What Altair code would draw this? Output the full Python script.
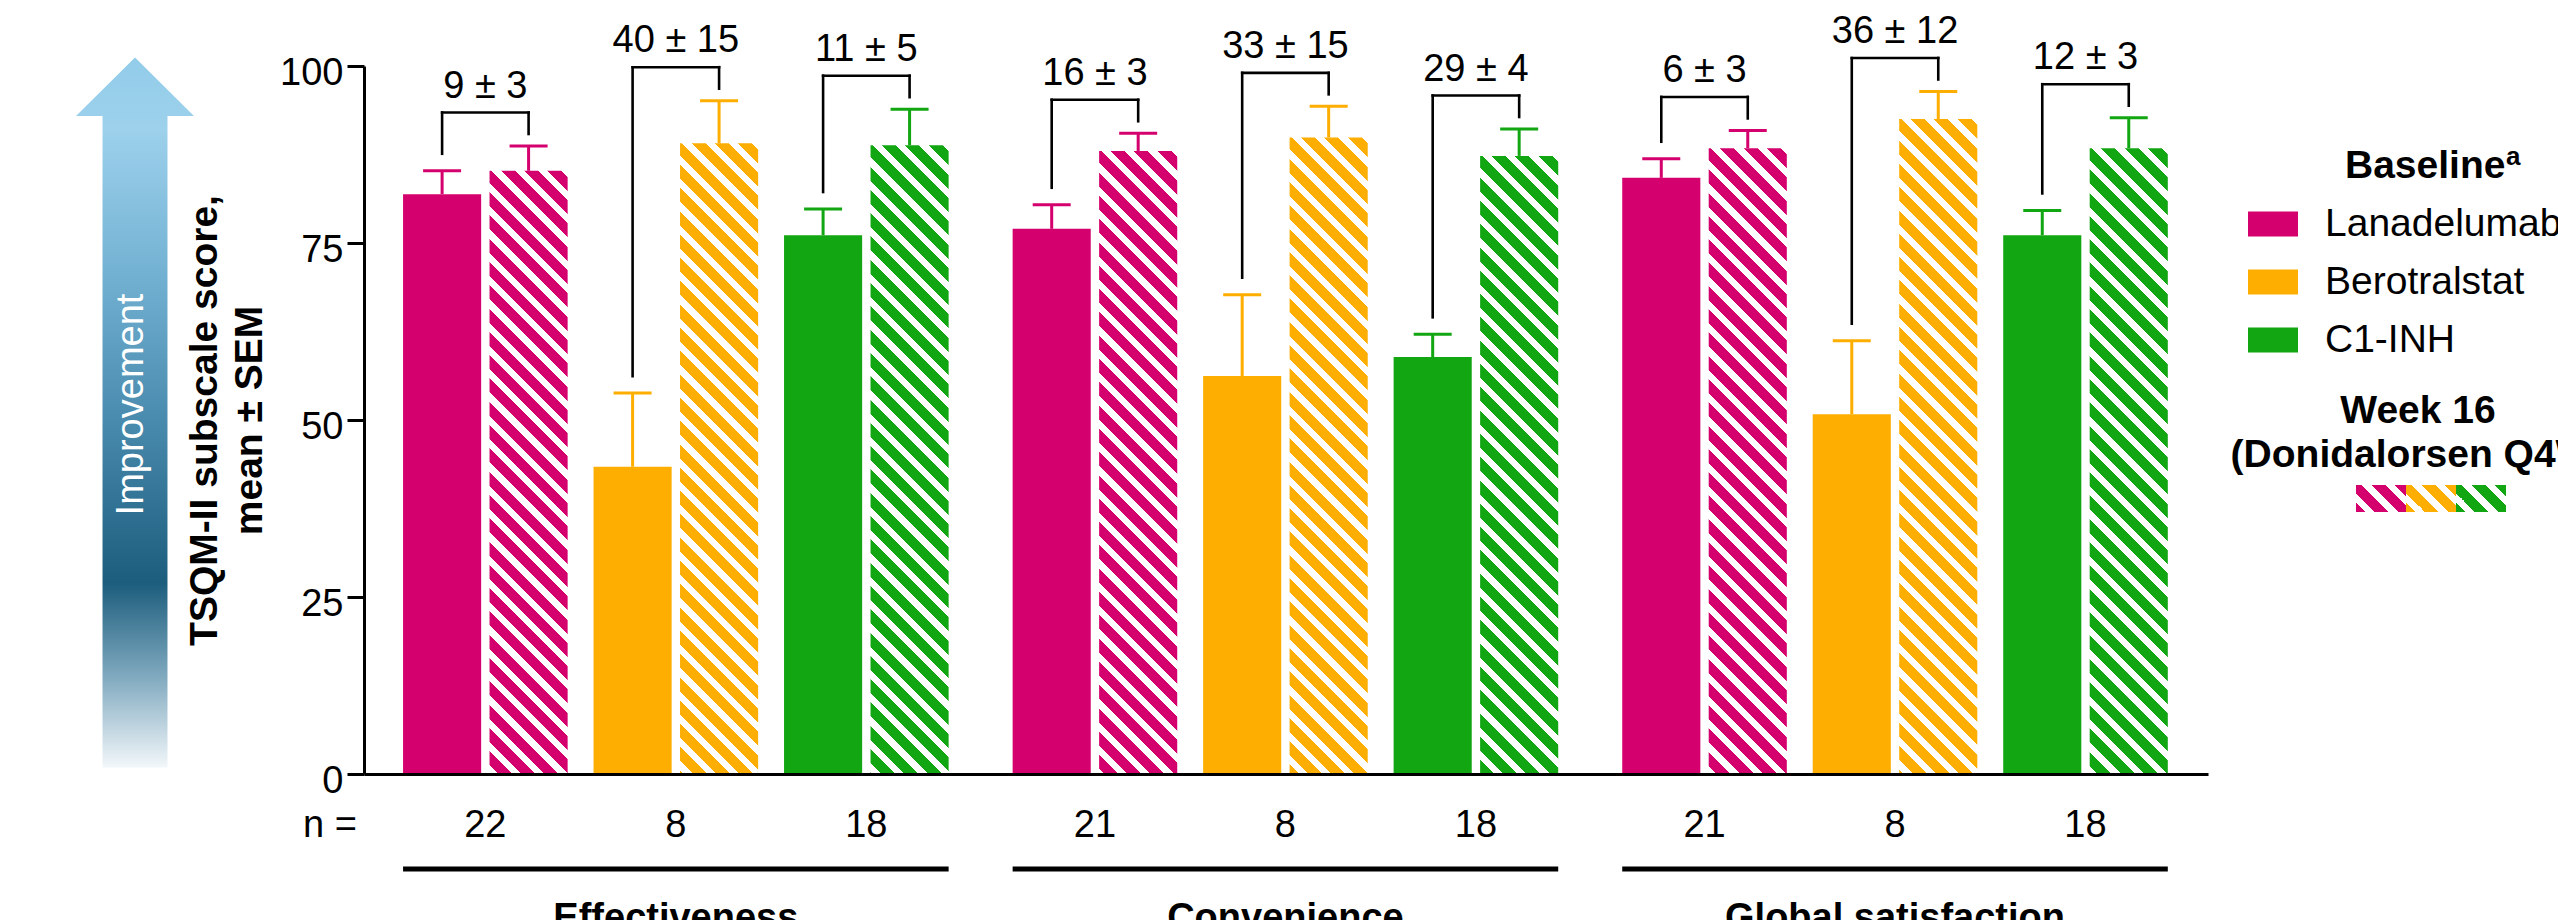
import math

import altair as alt
import pandas as pd

# ---------------------------------------------------------------- data
CATEGORIES = ["Effectiveness", "Convenience", "Global satisfaction"]
DRUGS = ["Lanadelumab", "Berotralstat", "C1-INH"]
DRUG_COLORS = ["#D4006E", "#FDAE00", "#12A612"]
N_PATIENTS = [[22, 8, 18], [21, 8, 18], [21, 8, 18]]
BASELINE_MEAN = [[81.9, 43.4, 76.1], [77.0, 56.2, 58.9], [84.2, 50.8, 76.1]]
BASELINE_SEM = [[3.3, 10.4, 3.7], [3.4, 11.5, 3.2], [2.7, 10.4, 3.5]]
WEEK16_MEAN = [[85.2, 89.1, 88.8], [88.0, 89.9, 87.3], [88.4, 92.5, 88.4]]
WEEK16_SEM = [[3.5, 6.0, 5.1], [2.5, 4.4, 3.8], [2.5, 3.9, 4.3]]
CHANGE_LABELS = [["9 ± 3", "40 ± 15", "11 ± 5"],
                 ["16 ± 3", "33 ± 15", "29 ± 4"],
                 ["6 ± 3", "36 ± 12", "12 ± 3"]]
Y_TICKS = [0, 25, 50, 75, 100]
TIMEPOINTS = ["Baseline", "Week 16"]

# ---------------------------------------------------------------- layout
FONT = "Liberation Sans, Arial, sans-serif"
FS = 38
PLOT_W, PLOT_H = 1844, 708
PADDING = {"left": 364, "top": 66, "right": 350, "bottom": 146}
X_DOMAIN = [-0.637, 9.043]          # one unit = distance between drug pairs
GROUP_STEP = 3.2                     # three pairs plus a wider gap per category
BAR_OFFSET = 0.227                   # bar centre distance from pair centre
BAR_HALF = 0.205                     # half bar width
PX_PER_X = PLOT_W / (X_DOMAIN[1] - X_DOMAIN[0])
PX_PER_Y = PLOT_H / 100.0
BAR_W_PX = 2 * BAR_HALF * PX_PER_X

# ---------------------------------------------------------------- tables
bar_rows, pair_rows, group_rows = [], [], []
for c, cat in enumerate(CATEGORIES):
    for d, drug in enumerate(DRUGS):
        centre = c * GROUP_STEP + d
        stats = [(BASELINE_MEAN[c][d], BASELINE_SEM[c][d]),
                 (WEEK16_MEAN[c][d], WEEK16_SEM[c][d])]
        xcs = []
        for t, tp in enumerate(TIMEPOINTS):
            xc = centre + (2 * t - 1) * BAR_OFFSET
            xcs.append(xc)
            mean, sem = stats[t]
            bar_rows.append(dict(key=f"{c}-{d}-{t}", category=cat, drug=drug,
                                 time=tp, mean=mean, sem=sem, top=mean + sem,
                                 xc=xc, x_lo=xc - BAR_HALF, x_hi=xc + BAR_HALF))
        left_bottom = stats[0][0] + stats[0][1] + 17 / PX_PER_Y
        right_bottom = stats[1][0] + stats[1][1] + 12 / PX_PER_Y
        pair_rows.append(dict(category=cat, drug=drug, n=str(N_PATIENTS[c][d]),
                              change=CHANGE_LABELS[c][d], centre=centre,
                              x_left=xcs[0], x_right=xcs[1],
                              left_bottom=left_bottom, right_bottom=right_bottom,
                              bracket_top=max(left_bottom, right_bottom) + 21.5 / PX_PER_Y))
    group_rows.append(dict(category=cat, centre=c * GROUP_STEP + 1,
                           x_start=c * GROUP_STEP - BAR_OFFSET - BAR_HALF,
                           x_end=c * GROUP_STEP + 2 + BAR_OFFSET + BAR_HALF))

bars = pd.DataFrame(bar_rows)
pairs = pd.DataFrame(pair_rows)
groups = pd.DataFrame(group_rows)


def hatch(color, w, h, period=23.3, white=9.3, phase=2.0):
    """Diagonal white stripes (top-left to bottom-right) as a linear gradient.

    The gradient runs in bounding-box units, so its vector is chosen so that
    the colour bands stay at 45 degrees on screen for a w x h pixel box."""
    k = (w + h) / (w * w + h * h)
    span = w + h

    def colour_at(dd):
        return "#FFFFFF" if ((dd - phase) % period) < white else color

    cuts = []
    m = math.floor((-h - phase) / period) - 1
    while True:
        s = phase + m * period
        for b in (s, s + white):
            if -h < b < w:
                cuts.append(b)
        if s > w:
            break
        m += 1
    cuts.sort()
    stops = [{"offset": 0, "color": colour_at(-h + 1e-6)}]
    for b in cuts:
        off = round((b + h) / span, 6)
        stops.append({"offset": off, "color": colour_at(b - 1e-6)})
        stops.append({"offset": off, "color": colour_at(b + 1e-6)})
    stops.append({"offset": 1, "color": colour_at(w - 1e-6)})
    return {"gradient": "linear", "x1": 0, "y1": 1,
            "x2": round(k * w, 6), "y2": round(1 - k * h, 6), "stops": stops}


# ---------------------------------------------------------------- scales / guides
XS = alt.Scale(domain=X_DOMAIN, nice=False, zero=False)
YS = alt.Scale(domain=[0, 100], nice=False)
CS = alt.Scale(domain=DRUGS, range=DRUG_COLORS)

X_AXIS = alt.Axis(labels=False, ticks=False, grid=False, title=None,
                  domainColor="black", domainWidth=3, zindex=1)
Y_AXIS = alt.Axis(values=Y_TICKS, grid=False, zindex=1,
                  domainColor="black", domainWidth=3,
                  tickColor="black", tickWidth=3, tickSize=17,
                  labelFontSize=FS, labelColor="black", labelPadding=4, labelOffset=7,
                  title=["TSQM-II subscale score,", "mean ± SEM"],
                  titleFontSize=39, titleFontWeight="bold", titleColor="black",
                  titleAngle=270, titleAlign="center", titleBaseline="alphabetic",
                  titleLineHeight=45, titleX=-148, titleY=PLOT_H / 2)
LEGEND = alt.Legend(orient="none", legendX=1884, legendY=133, title=None,
                    symbolType="M-1,-0.5H1V0.5H-1Z", symbolSize=2500,
                    symbolStrokeWidth=0, symbolOpacity=1,
                    labelFontSize=39, labelColor="black", labelOffset=27,
                    labelLimit=0, rowPadding=13, padding=0)


# every layer that uses a position scale carries the same axis definition,
# so the layered chart keeps one shared axis per channel
def xq(field):
    return alt.X(f"{field}:Q", scale=XS, axis=X_AXIS)


def yq(field):
    return alt.Y(f"{field}:Q", scale=YS, axis=Y_AXIS)


layers = []

# baseline bars (solid)
layers.append(
    alt.Chart(bars).transform_filter(alt.datum.time == "Baseline").mark_bar().encode(
        x=xq("x_lo"), x2="x_hi:Q",
        y=yq("mean"), y2=alt.Y2Datum(0),
        color=alt.Color("drug:N", scale=CS, legend=LEGEND),
    )
)

# week 16 bars (hatched), one layer per bar so each gets its own stripe geometry
for row in bar_rows:
    if row["time"] != "Week 16":
        continue
    fill = hatch(DRUG_COLORS[DRUGS.index(row["drug"])], BAR_W_PX, row["mean"] * PX_PER_Y)
    layers.append(
        alt.Chart(bars).transform_filter(alt.datum.key == row["key"])
        .mark_bar(fill=fill, strokeWidth=0)
        .encode(x=xq("x_lo"), x2="x_hi:Q", y=yq("mean"), y2=alt.Y2Datum(0))
    )

# upper error bars with caps
layers.append(
    alt.Chart(bars).mark_rule(strokeWidth=3).encode(
        x=xq("xc"), y=yq("mean"), y2="top:Q",
        color=alt.Color("drug:N", scale=CS, legend=None),
    )
)
layers.append(
    alt.Chart(bars).mark_tick(orient="horizontal", size=38, thickness=3, opacity=1).encode(
        x=xq("xc"), y=yq("top"),
        color=alt.Color("drug:N", scale=CS, legend=None),
    )
)

# change-from-baseline brackets and labels
BRACKET = dict(color="black", strokeWidth=2.6, strokeCap="square")
layers.append(alt.Chart(pairs).mark_rule(**BRACKET).encode(
    x=xq("x_left"), y=yq("left_bottom"), y2="bracket_top:Q"))
layers.append(alt.Chart(pairs).mark_rule(**BRACKET).encode(
    x=xq("x_right"), y=yq("right_bottom"), y2="bracket_top:Q"))
layers.append(alt.Chart(pairs).mark_rule(**BRACKET).encode(
    x=xq("x_left"), x2="x_right:Q", y=yq("bracket_top")))
layers.append(alt.Chart(pairs).mark_text(fontSize=FS, baseline="alphabetic", dy=-15,
                                         color="black").encode(
    x=xq("centre"), y=yq("bracket_top"), text="change:N"))

# n per pair, category underlines and names
N_ROW_Y = PLOT_H + 63
layers.append(alt.Chart(pairs).mark_text(fontSize=FS, baseline="alphabetic",
                                         color="black").encode(
    x=xq("centre"), y=alt.value(N_ROW_Y), text="n:N"))
layers.append(alt.Chart(pd.DataFrame({"t": ["n ="]})).mark_text(
    fontSize=FS, baseline="alphabetic", align="right", color="black").encode(
    x=alt.value(-7), y=alt.value(N_ROW_Y), text="t:N"))
layers.append(alt.Chart(groups).mark_rule(color="black", strokeWidth=5).encode(
    x=xq("x_start"), x2="x_end:Q", y=alt.value(PLOT_H + 95)))
layers.append(alt.Chart(groups).mark_text(fontSize=FS, fontWeight="bold",
                                          baseline="alphabetic", color="black").encode(
    x=xq("centre"), y=alt.value(PLOT_H + 156), text="category:N"))

# "Improvement" arrow beside the y axis
ARROW_PATH = ("M0,-1 L0.1662,-0.835 L0.0915,-0.835 L0.0915,1 "
              "L-0.0915,1 L-0.0915,-0.835 L-0.1662,-0.835 Z")
ARROW_FILL = {"gradient": "linear", "x1": 0, "y1": 0, "x2": 0, "y2": 1, "stops": [
    {"offset": 0.0, "color": "#92CCE9"},
    {"offset": 0.10, "color": "#9DD1EC"},
    {"offset": 0.30, "color": "#74B2D3"},
    {"offset": 0.50, "color": "#4B8DB0"},
    {"offset": 0.74, "color": "#1C5D7D"},
    {"offset": 0.87, "color": "#7EA8BE"},
    {"offset": 1.0, "color": "#F2F7FA"},
]}
arrow_df = pd.DataFrame({"label": ["Improvement"]})
layers.append(alt.Chart(arrow_df).mark_point(
    shape=ARROW_PATH, filled=True, fill=ARROW_FILL, opacity=1, strokeWidth=0,
    size=710 * 710).encode(x=alt.value(-229), y=alt.value(346.5)))
layers.append(alt.Chart(arrow_df).mark_text(
    fontSize=FS, angle=270, align="center", baseline="alphabetic", color="white").encode(
    x=alt.value(-221), y=alt.value(338.5), text="label:N"))

# legend headings and week-16 hatched swatches
heading = dict(fontSize=39, fontWeight="bold", baseline="alphabetic", color="black")
layers.append(alt.Chart(pd.DataFrame({"t": ["Baseline"]})).mark_text(align="left", **heading)
              .encode(x=alt.value(1981), y=alt.value(112), text="t:N"))
layers.append(alt.Chart(pd.DataFrame({"t": ["a"]})).mark_text(
    align="left", fontSize=26, fontWeight="bold", baseline="alphabetic", color="black")
    .encode(x=alt.value(2142), y=alt.value(99), text="t:N"))
layers.append(alt.Chart(pd.DataFrame({"t": ["Week 16"]})).mark_text(align="center", **heading)
              .encode(x=alt.value(2054), y=alt.value(357), text="t:N"))
layers.append(alt.Chart(pd.DataFrame({"t": ["(Donidalorsen Q4W)"]})).mark_text(
    align="center", **heading).encode(x=alt.value(2054), y=alt.value(401), text="t:N"))
for i, colour in enumerate(DRUG_COLORS):
    x0 = 1992 + i * 50
    layers.append(alt.Chart(pd.DataFrame({"drug": [DRUGS[i]]})).mark_rect(
        fill=hatch(colour, 50, 27, phase=6.0), strokeWidth=0).encode(
        x=alt.value(x0), x2=alt.value(x0 + 50), y=alt.value(419), y2=alt.value(446)))

chart = alt.layer(*layers).properties(
    width=PLOT_W, height=PLOT_H,
    autosize=alt.AutoSizeParams(type="none"),
    padding=PADDING,
).configure(font=FONT).configure_view(stroke=None)

chart.save("out.html", embed_options={"renderer": "svg", "actions": False})
